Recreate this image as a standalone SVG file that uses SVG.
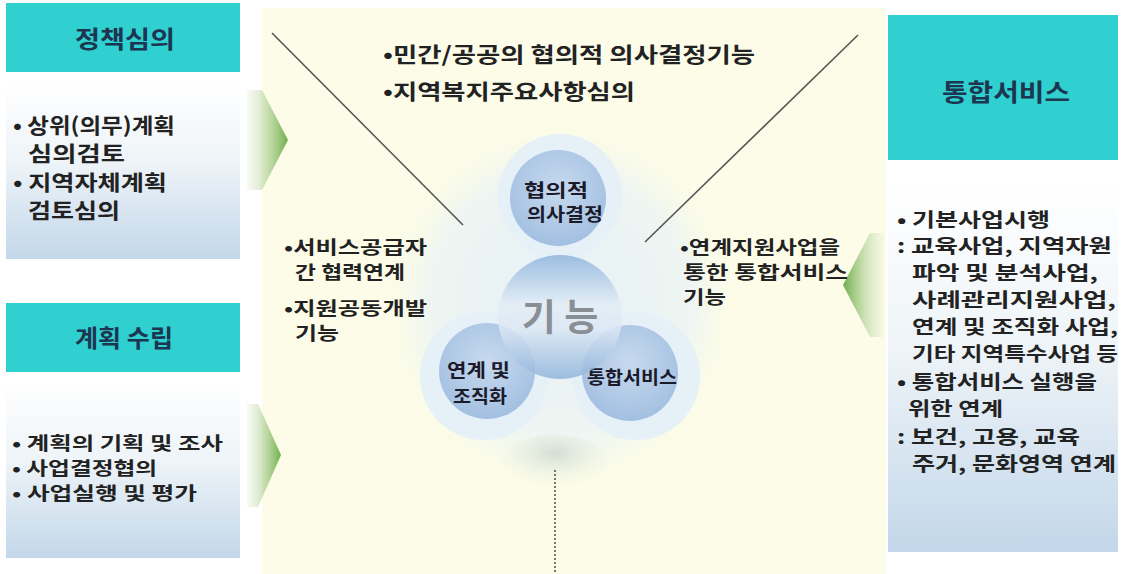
<svg xmlns="http://www.w3.org/2000/svg" width="1141" height="574" viewBox="0 0 1141 574">
<style>
.hdr{fill:#2fd0cf}
.hl{font-family:"Noto Sans CJK KR","Noto Sans",sans-serif;font-weight:bold;font-size:24px;fill:#1c3550}
.t{font-family:"Noto Sans CJK KR","Noto Sans",sans-serif;font-weight:bold;font-size:21px;fill:#222}
.s{font-size:18px}
.r{font-size:19px}
.tc{font-family:"Noto Sans CJK KR","Noto Sans",sans-serif;font-weight:bold;font-size:18px;fill:#1a1a2a}
.conn{stroke:#555;stroke-width:1.6;fill:none}
</style>
<defs>
<linearGradient id="box" x1="0" y1="0" x2="0" y2="1">
<stop offset="0" stop-color="#ffffff"/><stop offset="0.45" stop-color="#eef4f8"/><stop offset="1" stop-color="#c3d7ea"/>
</linearGradient>
<linearGradient id="arrR" x1="0" y1="0" x2="1" y2="0">
<stop offset="0" stop-color="#e8efd8" stop-opacity="0.3"/><stop offset="1" stop-color="#6fae4a"/>
</linearGradient>
<linearGradient id="arrL" x1="1" y1="0" x2="0" y2="0">
<stop offset="0" stop-color="#e8efd8" stop-opacity="0.3"/><stop offset="1" stop-color="#6fae4a"/>
</linearGradient>
<radialGradient id="circ" cx="0.5" cy="0.4" r="0.6">
<stop offset="0" stop-color="#c6d8ee"/><stop offset="1" stop-color="#9fbde0"/>
</radialGradient>
<linearGradient id="mid" x1="0" y1="0" x2="0" y2="1">
<stop offset="0" stop-color="#8db4dc"/><stop offset="0.4" stop-color="#e3edf6"/><stop offset="0.6" stop-color="#dbe7f3"/><stop offset="1" stop-color="#8fb3da"/>
</linearGradient>
<radialGradient id="glow" cx="0.5" cy="0.5" r="0.5">
<stop offset="0" stop-color="#e6f0f6"/><stop offset="0.75" stop-color="#eef5f2"/><stop offset="1" stop-color="#f6f9e8" stop-opacity="0"/>
</radialGradient>
<radialGradient id="dome" cx="0.5" cy="0.3" r="0.6">
<stop offset="0" stop-color="#d3ddd5"/><stop offset="1" stop-color="#f4f8e6" stop-opacity="0"/>
</radialGradient>
</defs>
<rect x="0" y="0" width="1141" height="574" fill="#ffffff"/>
<rect x="262" y="8" width="624" height="566" fill="#fcfce8"/>
<ellipse cx="560" cy="305" rx="175" ry="180" fill="url(#glow)"/>

<g id="trefoil-bg">
<ellipse cx="555" cy="465" rx="55" ry="30" fill="url(#dome)"/>
<circle cx="560" cy="196" r="62" fill="#e6f0f7"/>
<circle cx="484" cy="376" r="64" fill="#e6f0f7"/>
<circle cx="636" cy="376" r="64" fill="#e6f0f7"/>
<polygon points="560,196 484,376 636,376" fill="#e6f0f7"/>
</g>

<g id="connectors">
<line class="conn" x1="272" y1="33" x2="463" y2="225"/>
<line class="conn" x1="858" y1="35" x2="645" y2="242"/>
<line class="conn" x1="555" y1="470" x2="555" y2="574" stroke-dasharray="2 2" stroke-width="2.5"/>
</g>

<g id="node-policy-header">
<rect class="hdr" x="6" y="3" width="234" height="69"/>
<text class="hl" x="75" y="48" textLength="100" lengthAdjust="spacingAndGlyphs">정책심의</text>
</g>
<g id="node-policy-body">
<rect x="6" y="82" width="234" height="177" fill="url(#box)"/>
<text class="t" x="13" y="133" textLength="162" lengthAdjust="spacingAndGlyphs">• 상위(의무)계획</text>
<text class="t" x="28" y="161" textLength="97" lengthAdjust="spacingAndGlyphs">심의검토</text>
<text class="t" x="13" y="190" textLength="154" lengthAdjust="spacingAndGlyphs">• 지역자체계획</text>
<text class="t" x="28" y="218" textLength="92" lengthAdjust="spacingAndGlyphs">검토심의</text>
</g>
<g id="arrow-policy">
<polygon points="247,90 262,90 288,140 262,190 247,190" fill="url(#arrR)"/>
</g>

<g id="node-plan-header">
<rect class="hdr" x="6" y="303" width="234" height="69"/>
<text class="hl" x="75" y="347" textLength="98" lengthAdjust="spacingAndGlyphs">계획 수립</text>
</g>
<g id="node-plan-body">
<rect x="6" y="381" width="234" height="177" fill="url(#box)"/>
<text class="t s" x="12" y="450" textLength="211" lengthAdjust="spacingAndGlyphs">• 계획의 기획 및 조사</text>
<text class="t s" x="12" y="475" textLength="145" lengthAdjust="spacingAndGlyphs">• 사업결정협의</text>
<text class="t s" x="12" y="500" textLength="185" lengthAdjust="spacingAndGlyphs">• 사업실행 및 평가</text>
</g>
<g id="arrow-plan">
<polygon points="247,404 258,404 281,455 258,507 247,507" fill="url(#arrR)"/>
</g>

<g id="node-service-header">
<rect class="hdr" x="888" y="15" width="230" height="145"/>
<text class="hl" x="942" y="101" textLength="128" lengthAdjust="spacingAndGlyphs">통합서비스</text>
</g>
<g id="node-service-body">
<rect x="888" y="182" width="230" height="370" fill="url(#box)"/>
<text class="t r" x="897" y="227" textLength="153" lengthAdjust="spacingAndGlyphs">• 기본사업시행</text>
<text class="t r" x="897" y="253" textLength="215" lengthAdjust="spacingAndGlyphs">: 교육사업, 지역자원</text>
<text class="t r" x="912" y="280" textLength="186" lengthAdjust="spacingAndGlyphs">파악 및 분석사업,</text>
<text class="t r" x="912" y="307" textLength="204" lengthAdjust="spacingAndGlyphs">사례관리지원사업,</text>
<text class="t r" x="912" y="334" textLength="206" lengthAdjust="spacingAndGlyphs">연계 및 조직화 사업,</text>
<text class="t r" x="912" y="361" textLength="206" lengthAdjust="spacingAndGlyphs">기타 지역특수사업 등</text>
<text class="t r" x="897" y="389" textLength="200" lengthAdjust="spacingAndGlyphs">• 통합서비스 실행을</text>
<text class="t r" x="908" y="416" textLength="95" lengthAdjust="spacingAndGlyphs">위한 연계</text>
<text class="t r" x="897" y="444" textLength="183" lengthAdjust="spacingAndGlyphs">: 보건, 고용, 교육</text>
<text class="t r" x="912" y="471" textLength="204" lengthAdjust="spacingAndGlyphs">주거, 문화영역 연계</text>
</g>
<g id="arrow-service">
<polygon points="884,233 870,233 843,285 870,337 884,337" fill="url(#arrL)"/>
</g>

<g id="text-top">
<text class="t" x="383" y="62" textLength="372" lengthAdjust="spacingAndGlyphs">•민간/공공의 협의적 의사결정기능</text>
<text class="t" x="383" y="99" textLength="252" lengthAdjust="spacingAndGlyphs">•지역복지주요사항심의</text>
</g>
<g id="text-left">
<text class="t s" x="284" y="254" textLength="143" lengthAdjust="spacingAndGlyphs">•서비스공급자</text>
<text class="t s" x="295" y="279" textLength="110" lengthAdjust="spacingAndGlyphs">간 협력연계</text>
<text class="t s" x="284" y="315" textLength="143" lengthAdjust="spacingAndGlyphs">•지원공동개발</text>
<text class="t s" x="295" y="340" textLength="44" lengthAdjust="spacingAndGlyphs">기능</text>
</g>
<g id="text-right">
<text class="t s" x="680" y="254" textLength="160" lengthAdjust="spacingAndGlyphs">•연계지원사업을</text>
<text class="t s" x="683" y="279" textLength="165" lengthAdjust="spacingAndGlyphs">통한 통합서비스</text>
<text class="t s" x="683" y="304" textLength="43" lengthAdjust="spacingAndGlyphs">기능</text>
</g>

<g id="node-consult">
<circle cx="558" cy="198" r="48" fill="url(#circ)" opacity="0.95"/>
<text class="tc" x="524" y="197" textLength="64" lengthAdjust="spacingAndGlyphs">협의적</text>
<text class="tc" x="527" y="221" textLength="76" lengthAdjust="spacingAndGlyphs">의사결정</text>
</g>
<g id="node-link">
<circle cx="487" cy="371" r="48" fill="url(#circ)" opacity="0.95"/>
<text class="tc" x="447" y="377" textLength="63" lengthAdjust="spacingAndGlyphs">연계 및</text>
<text class="tc" x="453" y="403" textLength="54" lengthAdjust="spacingAndGlyphs">조직화</text>
</g>
<g id="node-integrated">
<circle cx="630" cy="373" r="48" fill="url(#circ)" opacity="0.95"/>
<text class="tc" x="587" y="384" textLength="90" lengthAdjust="spacingAndGlyphs">통합서비스</text>
</g>
<g id="node-function">
<circle cx="560" cy="317" r="62" fill="url(#mid)" opacity="0.85"/>
<text x="560" y="331" text-anchor="middle" font-family="Noto Sans CJK KR, sans-serif" font-weight="bold" font-size="37" fill="#8a8f96">기 능</text>
</g>
</svg>
